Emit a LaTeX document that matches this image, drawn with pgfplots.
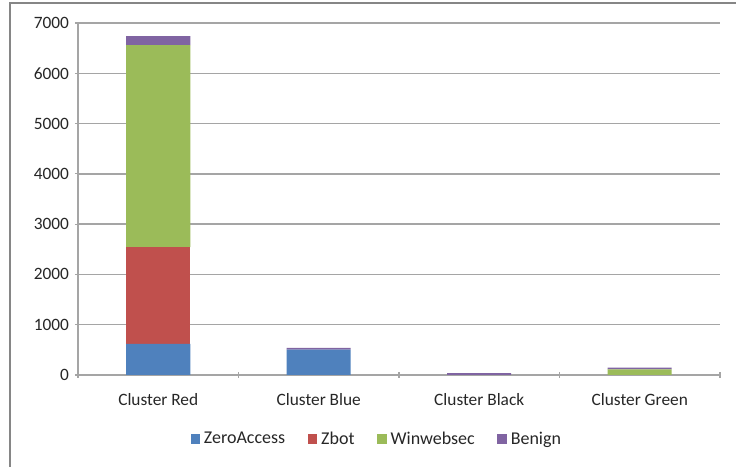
\documentclass[border=0pt]{standalone}
\usepackage{pgfplots}
\usepackage{pgfplotstable}
\pgfplotsset{compat=1.18}
\usepackage{fontspec}
\setmainfont{Carlito}

\definecolor{zeroaccess}{RGB}{79,129,189}
\definecolor{zbot}{RGB}{192,80,77}
\definecolor{winwebsec}{RGB}{155,187,89}
\definecolor{benign}{RGB}{128,100,162}
\definecolor{gridgray}{RGB}{165,165,165}
\definecolor{bordergray}{RGB}{134,134,134}

% cluster sizes by family
\pgfplotstableread{
x ZeroAccess Zbot Winwebsec Benign
0 620 1925 4015 180
1 505 0 0 35
2 0 0 0 35
3 0 0 110 35
}\clusters

\begin{document}
\begin{tikzpicture}
\useasboundingbox (0,0) rectangle (552pt,-350.25pt);
\draw[bordergray, line width=0.8pt] (7.5pt,-360pt) -- (7.5pt,-2.25pt) -- (560pt,-2.25pt);
\begin{axis}[
    at={(58.5pt,-17.25pt)}, anchor=north west,
    scale only axis,
    width=481.5pt, height=264pt,
    ybar stacked,
    bar width=48pt,
    xmin=-0.5, xmax=3.5,
    ymin=0, ymax=7000,
    xtick={-0.5,0.5,1.5,2.5,3.5},
    x tick label as interval,
    xticklabels={Cluster Red, Cluster Blue, Cluster Black, Cluster Green},
    ytick={0,1000,...,7000},
    scaled y ticks=false,
    /pgf/number format/assume math mode=true,
    /pgf/number format/1000 sep={},
    ticklabel style={font=\fontsize{13}{15}\selectfont, text=black!85},
    tick align=outside,
    major tick length=4.5pt,
    tick style={draw=gridgray, line width=0.8pt},
    axis lines=left,
    axis line style={-, draw=gridgray, line width=0.8pt},
    ymajorgrids,
    major grid style={draw=gridgray, line width=1pt},
    xticklabel style={yshift=-8pt},
    yticklabel style={xshift=-1pt},
    legend style={
        at={(0.466,-0.182)}, anchor=center,
        draw=none, fill=none,
        legend columns=4,
        font=\fontsize{13.5}{15}\selectfont,
        text=black!85,
        /tikz/every even column/.append style={column sep=15pt},
        /tikz/every odd column/.append style={column sep=1pt},
    },
    legend image code/.code={\fill[#1] (0pt,-3.5pt) rectangle (7pt,3.5pt);},
    legend cell align=left,
]
\addplot[fill=zeroaccess, draw=none] table[x=x, y=ZeroAccess] {\clusters};
\addplot[fill=zbot, draw=none] table[x=x, y=Zbot] {\clusters};
\addplot[fill=winwebsec, draw=none] table[x=x, y=Winwebsec] {\clusters};
\addplot[fill=benign, draw=none] table[x=x, y=Benign] {\clusters};
\legend{ZeroAccess, Zbot, Winwebsec, Benign}
\end{axis}
\end{tikzpicture}
\end{document}
